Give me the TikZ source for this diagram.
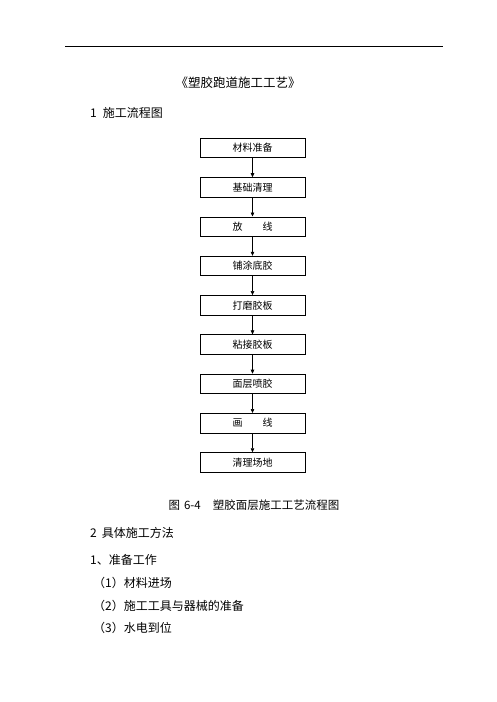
\documentclass[tikz,border=0pt]{standalone}
\usepackage{fontspec}
\setmainfont{Noto Sans CJK SC}
\usetikzlibrary{arrows.meta}
\begin{document}
\begin{tikzpicture}[x=1pt,y=-1pt,
  stepbox/.style={draw, line width=0.7pt, minimum width=105pt, minimum height=19.5pt, inner sep=0pt, font=\fontsize{10}{12}\selectfont},
  flow/.style={-{Triangle[length=4pt,width=3.5pt]}, line width=0.6pt},
  txt/.style={anchor=west, inner sep=0pt, font=\fontsize{12}{14}\selectfont}]
\useasboundingbox (0,0) rectangle (496,702);
\draw[line width=0.8pt] (65,46) -- (443,46);
\node[inner sep=0pt, font=\fontsize{12.5}{14}\selectfont] (title) at (238,83) {《塑胶跑道施工工艺》};
\node[txt] (h1) at (90,113) {1\hspace{6pt}施工流程图};
\foreach \i/\t in {1/材料准备,2/基础清理,3/放　　线,4/铺涂底胶,5/打磨胶板,6/粘接胶板,7/面层喷胶,8/画　　线,9/清理场地}{
  \node[stepbox] (b\i) at (252.5,{148+(\i-1)*39.3}) {\t};
}
\foreach \i [evaluate=\i as \j using int(\i+1)] in {1,...,8}{
  \draw[flow] (b\i.south) -- (b\j.north);
}
\node[inner sep=0pt, font=\fontsize{11.5}{13}\selectfont] (cap) at (254,505) {图\hspace{4pt}6-4\hspace{12pt}塑胶面层施工工艺流程图};
\node[txt] (h2) at (90,533) {2\hspace{5pt}具体施工方法};
\node[txt] (h3) at (90,560) {1、准备工作};
\node[txt] (l1) at (93,583) {（1）材料进场};
\node[txt] (l2) at (93,606) {（2）施工工具与器械的准备};
\node[txt] (l3) at (93,628) {（3）水电到位};
\end{tikzpicture}
\end{document}
